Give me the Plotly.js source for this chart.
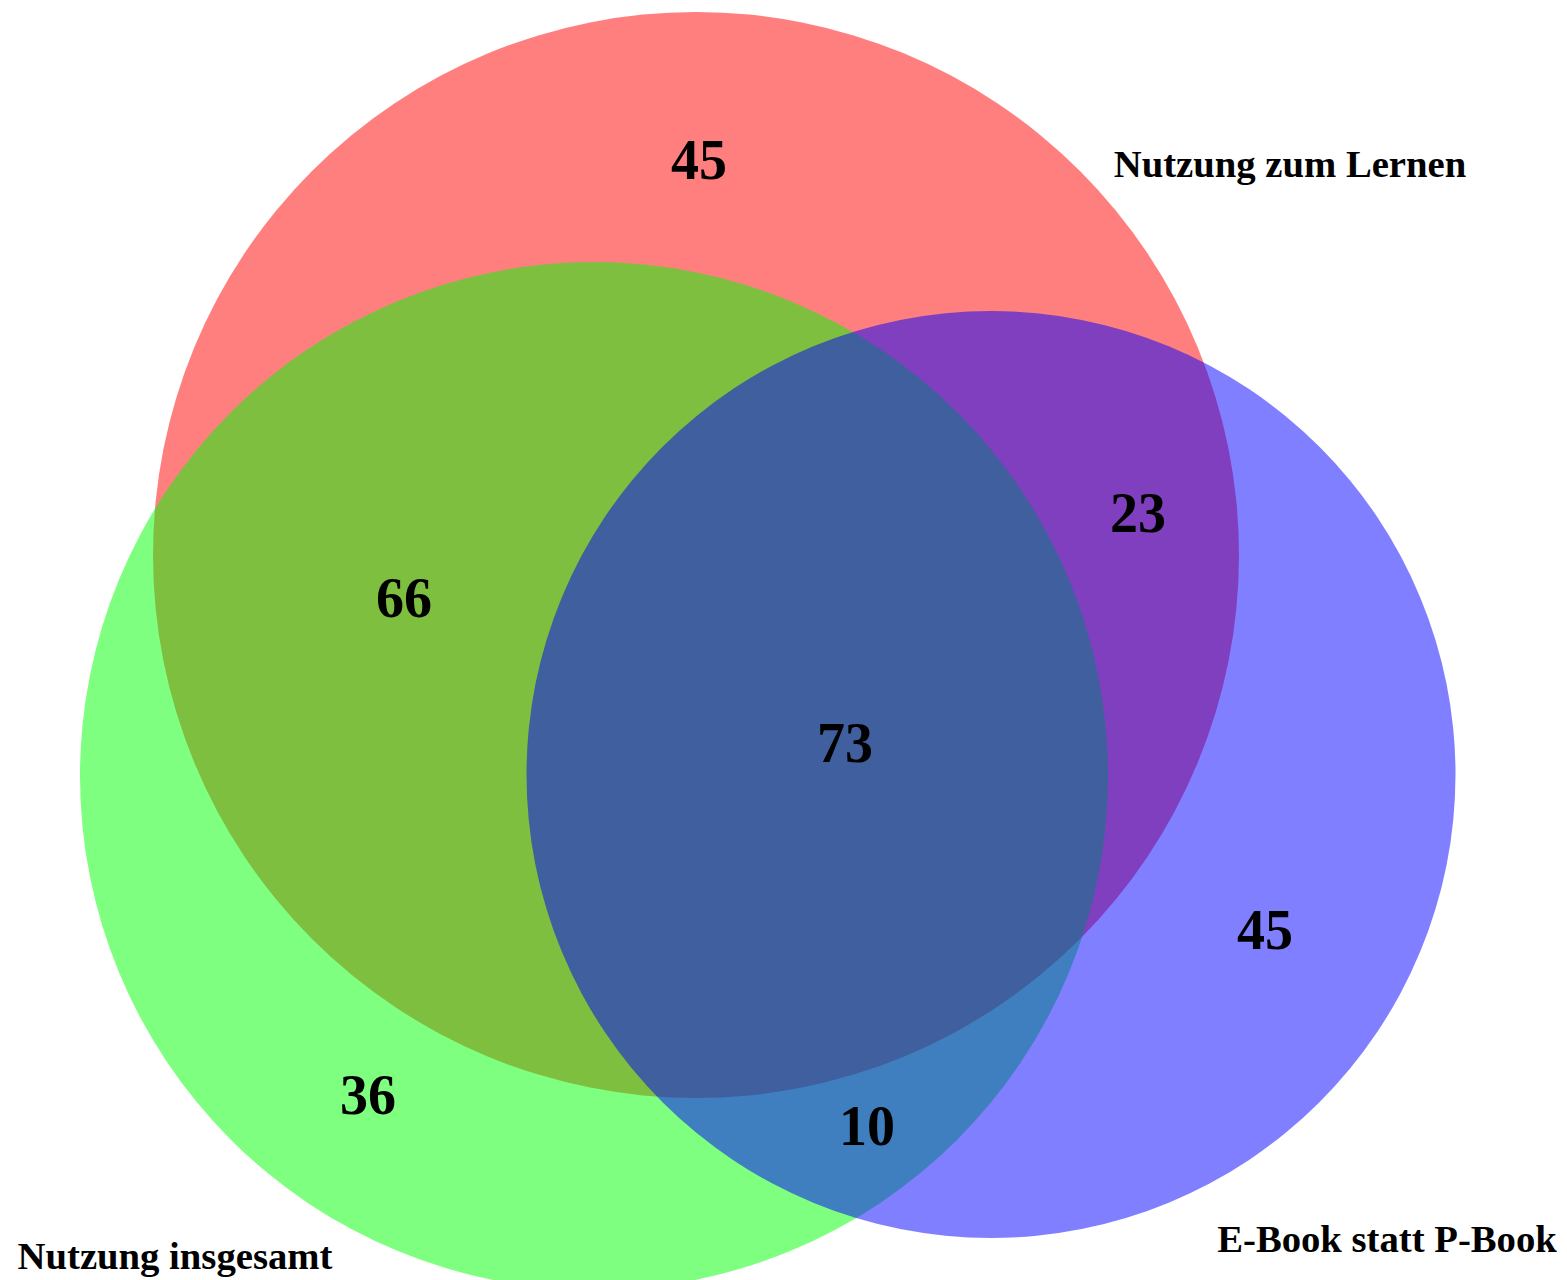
<!DOCTYPE html>
<html>
<head>
<meta charset="utf-8">
<script src="https://cdn.plot.ly/plotly-3.0.1.min.js"></script>
<style>html,body{margin:0;padding:0;background:#fff;}#chart{width:1567px;height:1280px;}</style>
</head>
<body>
<div id="chart"></div>
<script>
// Set names and colours
const setNames = ["Nutzung zum Lernen", "Nutzung insgesamt", "E-Book statt P-Book"];
const setColors = ["rgba(255,0,0,0.5)", "rgba(0,255,0,0.5)", "rgba(0,0,255,0.5)"];

// Region counts
const regionNames = ["Lernen only", "Lernen & Insgesamt", "All three", "Lernen & E-Book", "E-Book only", "Insgesamt only", "Insgesamt & E-Book"];
const regionValues = [45, 66, 73, 23, 45, 36, 10];

// Layout geometry (pixel space)
const circleCx = [696, 594, 991];
const circleCy = [555, 776, 774.5];
const circleRx = [543, 514, 464.5];
const circleRy = [543, 514, 463.5];
const regionX = [699, 404, 845, 1138, 1265, 368, 867];
const regionY = [165, 603, 748, 518, 935, 1100, 1131];
const labelX = [1290, 175, 1387];
const labelY = [167, 1259, 1242];

const shapes = setNames.map((n, i) => ({
  type: "circle", xref: "x", yref: "y", layer: "below",
  x0: circleCx[i] - circleRx[i], x1: circleCx[i] + circleRx[i],
  y0: circleCy[i] - circleRy[i], y1: circleCy[i] + circleRy[i],
  fillcolor: setColors[i], line: {width: 0}
}));

const traces = [
  {
    type: "scatter", mode: "text",
    x: regionX, y: regionY,
    text: regionValues.map(String),
    textfont: {family: "Liberation Serif", size: 56, color: "#000", weight: "bold"},
    hoverinfo: "skip", showlegend: false
  },
  {
    type: "scatter", mode: "text",
    x: labelX, y: labelY,
    text: setNames,
    textfont: {family: "Liberation Serif", size: 38.7, color: "#000", weight: "bold"},
    hoverinfo: "skip", showlegend: false
  }
];

const layout = {
  width: 1567, height: 1280,
  margin: {l: 0, r: 0, t: 0, b: 0},
  paper_bgcolor: "#fff", plot_bgcolor: "#fff",
  xaxis: {range: [0, 1567], visible: false, fixedrange: true},
  yaxis: {range: [1280, 0], visible: false, fixedrange: true},
  shapes: shapes,
  showlegend: false
};

Plotly.newPlot("chart", traces, layout, {displayModeBar: false, staticPlot: true});
</script>
</body>
</html>
